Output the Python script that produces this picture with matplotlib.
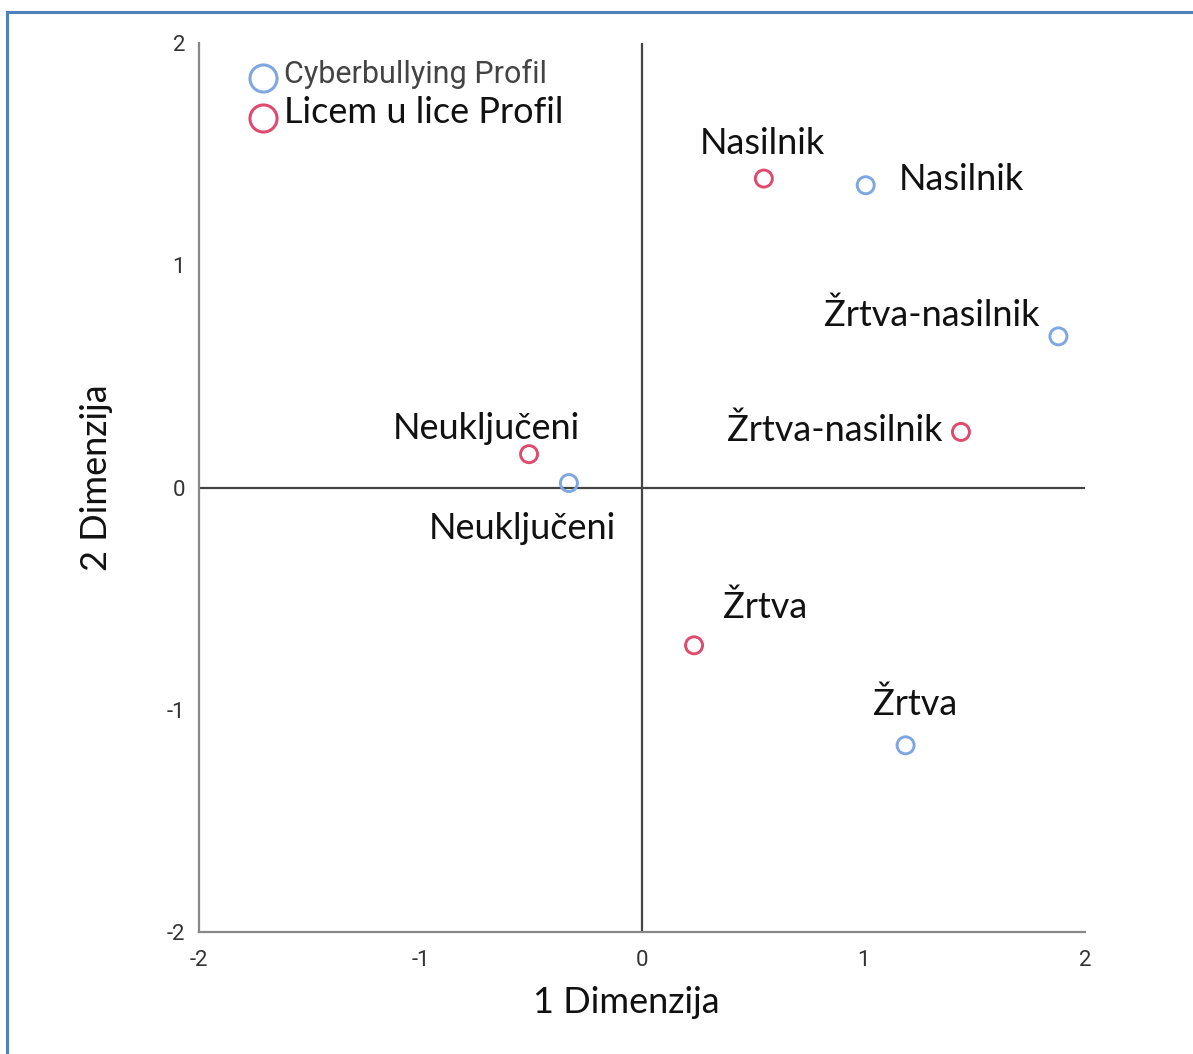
#!/usr/bin/env python3
"""Correspondence analysis map: cyberbullying vs face-to-face profiles."""

import matplotlib

matplotlib.use("Agg")
import matplotlib.pyplot as plt
from matplotlib.lines import Line2D

# dimension scores
categories = ["Nasilnik", "Žrtva-nasilnik", "Neuključeni", "Žrtva"]
cyber_dim1 = [1.01, 1.88, -0.33, 1.19]
cyber_dim2 = [1.36, 0.68, 0.02, -1.16]
face_dim1 = [0.55, 1.44, -0.51, 0.235]
face_dim2 = [1.39, 0.25, 0.15, -0.71]

series_names = ["Cyberbullying Profil", "Licem u lice Profil"]
ticks = [-2, -1, 0, 1, 2]

BLUE = "#7ea7e2"
RED = "#e04a6e"
LABEL_FONT = ["Lato", "DejaVu Sans"]
TICK_FONT = ["Roboto", "DejaVu Sans"]

# label offsets in pixels (dx, dy, ha) per point
cyber_offsets = [(33, 6, "left"), (-19, 21, "right"), (-47, -45, "center"), (10, 41, "center")]
face_offsets = [(-1, 35, "center"), (-18, 2, "right"), (-43, 26, "center"), (29, 38, "left")]

fig = plt.figure(figsize=(11.93, 10.54), dpi=100)
ax = fig.add_axes([199 / 1193, 122 / 1054, 886 / 1193, 889 / 1054])

ax.scatter(cyber_dim1, cyber_dim2, s=150, facecolors="none", edgecolors=BLUE, linewidths=2.1, zorder=3)
ax.scatter(face_dim1, face_dim2, s=150, facecolors="none", edgecolors=RED, linewidths=2.1, zorder=3)

for name, x, y, (dx, dy, ha) in zip(categories, cyber_dim1, cyber_dim2, cyber_offsets):
    ax.annotate(name, (x, y), xytext=(dx, dy), textcoords="offset pixels",
                ha=ha, va="center", fontsize=26, family=LABEL_FONT, color="#111111")
for name, x, y, (dx, dy, ha) in zip(categories, face_dim1, face_dim2, face_offsets):
    ax.annotate(name, (x, y), xytext=(dx, dy), textcoords="offset pixels",
                ha=ha, va="center", fontsize=26, family=LABEL_FONT, color="#111111")

ax.axhline(0, color="#444444", lw=1.6, zorder=1)
ax.axvline(0, color="#444444", lw=1.6, zorder=1)

ax.set_xlim(-2, 2)
ax.set_ylim(-2, 2)
ax.set_xticks(ticks)
ax.set_yticks(ticks)
ax.set_xticklabels([str(t) for t in ticks], family=TICK_FONT, fontsize=16, color="#333333")
ax.set_yticklabels([str(t) for t in ticks], family=TICK_FONT, fontsize=16, color="#333333")
ax.tick_params(axis="both", length=0)
ax.tick_params(axis="x", pad=13)
ax.tick_params(axis="y", pad=10)

for side in ["top", "right"]:
    ax.spines[side].set_visible(False)
for side in ["left", "bottom"]:
    ax.spines[side].set_color("#888888")
    ax.spines[side].set_linewidth(1.6)

ax.set_xlabel("1 Dimenzija", family=LABEL_FONT, fontsize=26, color="#111111")
ax.xaxis.set_label_coords(0.482, -0.061)
ax.set_ylabel("2 Dimenzija", family=LABEL_FONT, fontsize=26, color="#111111")
ax.yaxis.set_label_coords(-0.097, 0.511)

handles = [
    Line2D([], [], ls="none", marker="o", markersize=19.5, markerfacecolor="none",
           markeredgecolor=BLUE, markeredgewidth=2.2),
    Line2D([], [], ls="none", marker="o", markersize=19.5, markerfacecolor="none",
           markeredgecolor=RED, markeredgewidth=2.2),
]
leg = ax.legend(handles, series_names, loc="upper left", bbox_to_anchor=(0.05, 0.988),
                frameon=False, handletextpad=0.5, labelspacing=0.5, borderaxespad=0)
t0, t1 = leg.get_texts()
t0.set_fontsize(22)
t0.set_family(TICK_FONT)
t0.set_color("#444444")
t1.set_fontsize(26)
t1.set_family(LABEL_FONT)
t1.set_color("#111111")

# outer frame (only top and left edges visible in the source)
fig.add_artist(Line2D([7.5 / 1193, 7.5 / 1193], [0, 1 - 11.5 / 1054], transform=fig.transFigure,
                      color="#4f81bd", lw=2.2))
fig.add_artist(Line2D([7.5 / 1193, 1], [1 - 11.5 / 1054, 1 - 11.5 / 1054], transform=fig.transFigure,
                      color="#4f81bd", lw=2.2))

fig.savefig("out.png", dpi=100)
